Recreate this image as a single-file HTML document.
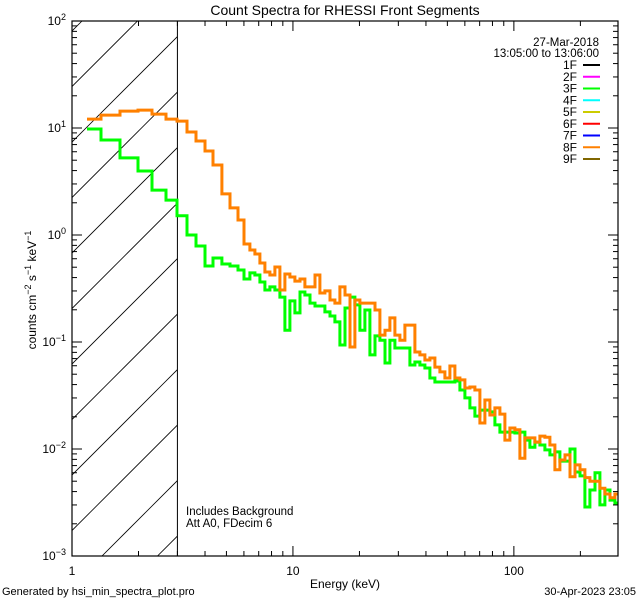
<!DOCTYPE html>
<html><head><meta charset="utf-8"><style>
body{margin:0;background:#fff}
svg{display:block}
text{font-family:"Liberation Sans",sans-serif;fill:#000}
</style></head><body>
<svg id="chart" width="640" height="600" viewBox="0 0 640 600" xmlns="http://www.w3.org/2000/svg">
<rect width="640" height="600" fill="#fff"/>
<text x="345" y="15" font-size="14" text-anchor="middle">Count Spectra for RHESSI Front Segments</text>
<text transform="translate(36,290) rotate(-90)" font-size="12" text-anchor="middle">counts cm<tspan dy="-5" font-size="9">−2</tspan><tspan dy="5"> s</tspan><tspan dy="-5" font-size="9">−1</tspan><tspan dy="5"> keV</tspan><tspan dy="-5" font-size="9">−1</tspan></text>
<text x="345" y="588" font-size="12" text-anchor="middle">Energy (keV)</text>
<text x="2" y="595" font-size="11">Generated by hsi_min_spectra_plot.pro</text>
<text x="636" y="595" font-size="11" text-anchor="end">30-Apr-2023 23:05</text>
<text x="186" y="515" font-size="11.5">Includes Background</text>
<text x="186" y="527" font-size="11.5">Att A0, FDecim 6</text>
<text x="599" y="46" font-size="11.5" text-anchor="end">27-Mar-2018</text>
<text x="599" y="57" font-size="11.5" text-anchor="end">13:05:00 to 13:06:00</text>
<g id="legend"></g>
<g id="hatch"></g>
<g id="series"></g>
<g id="axes"></g>
</svg>
<script>
const energyEdges=[1.169,1.353,1.649,1.989,2.301,2.663,2.987,3.314,3.640,3.998,4.345,4.771,5.187,5.638,6.002,6.389,6.730,7.090,7.469,
7.869,8.290,8.734,9.201,9.693,10.21,10.76,11.33,11.94,12.58,13.25,13.96,14.71,15.49,16.32,17.20,18.12,19.08,20.10,21.18,22.31,23.51,24.76,26.09,27.48,28.95,30.50,32.13,33.85,35.66,37.57,39.58,41.70,43.93,46.28,48.75,51.36,54.11,57.00,60.05,63.26,66.65,70.21,73.97,77.93,82.10,86.49,91.11,95.99,101.1,106.5,112.2,118.2,124.5,131.2,138.2,145.6,153.4,161.6,170.3,179.4,189.0,199.1,209.7,220.9,232.8,245.2,258.3,272.2,286.7,296];
const counts3F=[9.79,7.73,5.25,3.96,2.63,2.12,1.51,1.00,0.789,0.513,0.610,0.536,0.513,0.471,0.388,0.442,0.423,0.364,0.306,
0.327,0.306,0.263,0.129,0.242,0.187,0.293,0.275,0.231,0.217,0.217,0.191,0.175,0.154,0.0937,0.208,0.263,0.222,0.129,0.199,0.0757,0.114,0.104,0.0637,0.104,0.0879,0.0879,0.0879,0.0610,0.0650,0.0610,0.0571,0.0461,0.0423,0.0423,0.0423,0.0423,0.0432,0.0356,0.0300,0.0242,0.0203,0.0231,0.0231,0.0222,0.0168,0.0144,0.0144,0.0144,0.0141,0.0144,0.0121,0.0104,0.0116,0.0109,0.0098,0.0088,0.0094,0.0077,0.0077,0.0100,0.0061,0.0056,0.00287,0.00414,0.0060,0.0030,0.00414,0.00333,0.00313];
const counts8F=[12.1,13.2,14.4,14.7,13.5,12.1,11.6,9.17,7.56,6.10,4.51,2.42,1.79,1.38,0.824,0.724,0.664,0.547,0.451,
0.423,0.502,0.306,0.432,0.405,0.371,0.388,0.327,0.327,0.423,0.287,0.300,0.247,0.231,0.327,0.275,0.0898,0.247,0.231,0.231,0.231,0.199,0.116,0.129,0.168,0.116,0.104,0.144,0.144,0.0807,0.0757,0.0679,0.0708,0.0583,0.0525,0.0461,0.0597,0.0461,0.0442,0.0372,0.0380,0.0356,0.0175,0.0287,0.0208,0.0242,0.0212,0.0121,0.0157,0.0151,0.0082,0.0127,0.0127,0.0116,0.0132,0.0129,0.0109,0.0064,0.0079,0.0088,0.0055,0.0071,0.0064,0.0054,0.0050,0.0050,0.0043,0.0038,0.0035,0.0038];
const legendLabels=["1F","2F","3F","4F","5F","6F","7F","8F","9F"];
const legendColors=["#000000","#ff00ff","#00ff00","#00ffff","#cccc00","#ff0000","#0000ff","#ff8000","#806600"];
const xTickValues=[1,10,100];
const xTickLabels=["1","10","100"];
const yTickExponents=[-3,-2,-1,0,1,2];
const attenuatorCutoff=3;

const NS="http://www.w3.org/2000/svg";
const L=72,R=618,T=21,B=556;
const XMIN=1,XMAX=296,YMIN=-3,YMAX=2;
function xs(e){return L+(Math.log10(e)-Math.log10(XMIN))/(Math.log10(XMAX)-Math.log10(XMIN))*(R-L);}
function ys(v){return T+(YMAX-Math.log10(v))/(YMAX-YMIN)*(B-T);}
function mk(tag,attrs,parent){const el=document.createElementNS(NS,tag);for(const k in attrs)el.setAttribute(k,attrs[k]);parent.appendChild(el);return el;}
const axes=document.getElementById('axes');
const hatch=document.getElementById('hatch');
const series=document.getElementById('series');
const legend=document.getElementById('legend');

// hatch region
const cx=xs(attenuatorCutoff);
const cp=mk('clipPath',{id:'hclip'},hatch);
mk('rect',{x:L,y:T,width:cx-L,height:B-T},cp);
const hg=mk('g',{'clip-path':'url(#hclip)'},hatch);
for(let c=103;c<760;c+=55.5){
  const ln=mk('line',{x1:c-T-600,y1:T+600,x2:c-T,y2:T,stroke:'#000','stroke-width':0.8},hg);
  
  
}
const cl=mk('line',{x1:cx,y1:T,x2:cx,y2:B,stroke:'#000','stroke-width':1},hatch);



function stepPath(vals){
  let d='';
  for(let i=0;i<vals.length;i++){
    const x0=xs(energyEdges[i]),x1=xs(energyEdges[i+1]),y=ys(vals[i]);
    d+=(i===0?'M':'L')+x0.toFixed(1)+','+y.toFixed(1)+'L'+x1.toFixed(1)+','+y.toFixed(1);
  }
  return d;
}
const p3=mk('path',{d:stepPath(counts3F),fill:'none',stroke:'#00ff00','stroke-width':3,'stroke-linejoin':'miter'},series);


const p8=mk('path',{d:stepPath(counts8F),fill:'none',stroke:'#ff8000','stroke-width':3,'stroke-linejoin':'miter'},series);



// frame
const fr=mk('rect',{x:L,y:T,width:R-L,height:B-T,fill:'none',stroke:'#000','stroke-width':1.2},axes);


// x ticks
for(let dec=1;dec<=100;dec*=10){
  for(let m=1;m<=9;m++){
    const v=dec*m; if(v>XMAX)break;
    const x=xs(v),len=m===1?10:5;
    mk('line',{x1:x,y1:B,x2:x,y2:B-len,stroke:'#000'},axes);
    mk('line',{x1:x,y1:T,x2:x,y2:T+len,stroke:'#000'},axes);
  }
}
xTickValues.forEach((v,i)=>{
  const t=mk('text',{x:xs(v),y:B+19,'font-size':12,'text-anchor':'middle'},axes);
  t.textContent=xTickLabels[i];
  
  
});
// y ticks
yTickExponents.forEach(e=>{
  const base=Math.pow(10,e);
  for(let m=1;m<=9;m++){
    const v=base*m; if(Math.log10(v)>YMAX+1e-9)break;
    const y=ys(v),len=m===1?10:5;
    mk('line',{x1:L,y1:y,x2:L+len,y2:y,stroke:'#000'},axes);
    mk('line',{x1:R,y1:y,x2:R-len,y2:y,stroke:'#000'},axes);
  }
  const t=mk('text',{x:L-6,y:ys(base)+4,'font-size':12,'text-anchor':'end'},axes);
  
  
  const a=document.createElementNS(NS,'tspan');a.textContent='10';t.appendChild(a);
  const b=document.createElementNS(NS,'tspan');b.setAttribute('dy','-5');b.setAttribute('font-size','9');b.textContent=(e<0?'−':'')+Math.abs(e);t.appendChild(b);
});
// legend
legendLabels.forEach((lab,i)=>{
  const y=65+i*11.75;
  const t=mk('text',{x:577,y:y+4,'font-size':12,'text-anchor':'end'},legend);
  t.textContent=lab;
  
  
  const l=mk('line',{x1:583,y1:y,x2:600,y2:y,stroke:legendColors[i],'stroke-width':2},legend);
  
  
});
</script>
</body></html>
